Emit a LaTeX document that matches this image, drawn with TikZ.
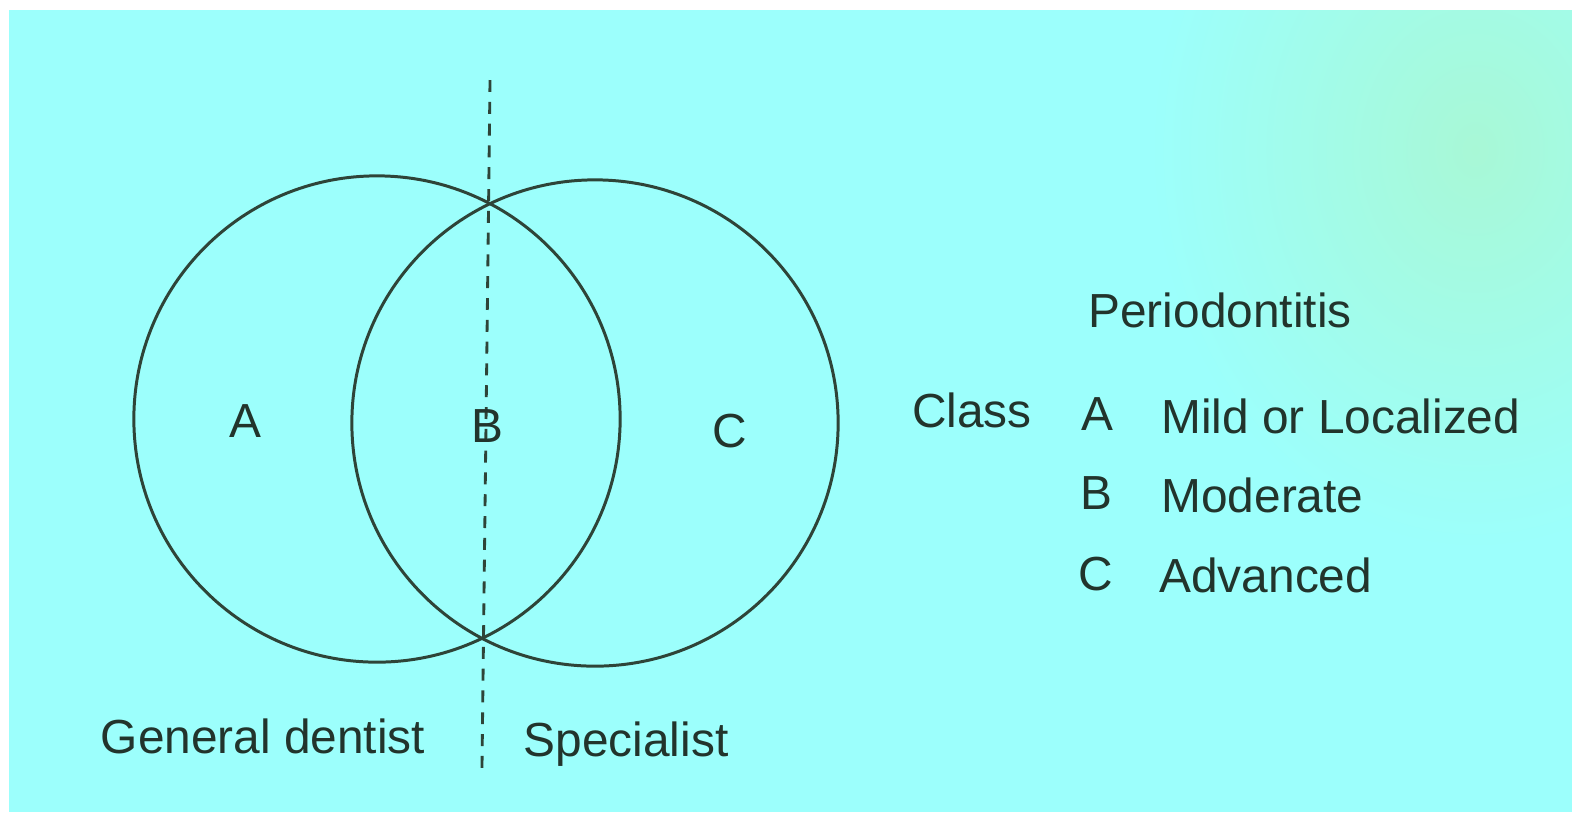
\documentclass[tikz,border=0pt]{standalone}
\usepackage{fontspec}
\setmainfont{Liberation Sans}
\usetikzlibrary{positioning}
\definecolor{ink}{RGB}{34,52,44}
\definecolor{line}{RGB}{46,68,56}
\definecolor{paper}{RGB}{156,255,252}
\definecolor{mint}{RGB}{168,248,214}
\tikzset{
  every picture/.style={color=ink, line width=0.8pt},
  ring/.style={draw=line, circle, minimum size=4.86cm, inner sep=0pt, line width=0.85pt},
  divider/.style={draw=line, line width=0.8pt, dash pattern=on 3.4pt off 2.8pt},
  lbl/.style={font=\fontsize{13.6pt}{16pt}\selectfont, text=ink, inner sep=0pt, anchor=base},
  desc/.style={lbl, anchor=base west},
}

\begin{document}
\begin{tikzpicture}[x=0.01cm, y=-0.01cm]
  % page, screen and the faint green glow in the corner
  \useasboundingbox (0,0) rectangle (1572,817);
  \fill[white] (0,0) rectangle (1572,817);
  \fill[paper] (9,10) rectangle (1572,812);
  \begin{scope}
    \clip (9,10) rectangle (1572,812);
    \shade[inner color=mint, outer color=paper] (1150,-250) rectangle (1800,550);
  \end{scope}

  % the two sets
  \node[ring] (gen) at (377,419) {};
  \node[ring] (spec) at (595,423) {};
  \coordinate (cut top) at (490,80);
  \coordinate (cut bot) at (482,768);
  \draw[divider] (cut top) -- (cut bot);

  \node[lbl] (inA) at (245,437) {A};
  \node[lbl] (inB) at (487,442) {B};
  \node[lbl] (inC) at (730,447) {C};

  \node[lbl] (gd) at (263,753) {General dentist};
  \node[lbl] (sp) at (626,756) {Specialist};

  % legend
  \node[lbl] (title) at (1220,327) {Periodontitis};
  \node[lbl] (class) at (972,427) {Class};
  \node[lbl] (keyA) at (1097,430) {A};
  \node[lbl] (keyB) at (1096,509) {B};
  \node[lbl] (keyC) at (1096,590) {C};
  \node[desc] (mild) at (1160,433) {Mild or Localized};
  \node[desc] (mod) at (1160,512) {Moderate};
  \node[desc] (adv) at (1158,592) {Advanced};
\end{tikzpicture}
\end{document}
